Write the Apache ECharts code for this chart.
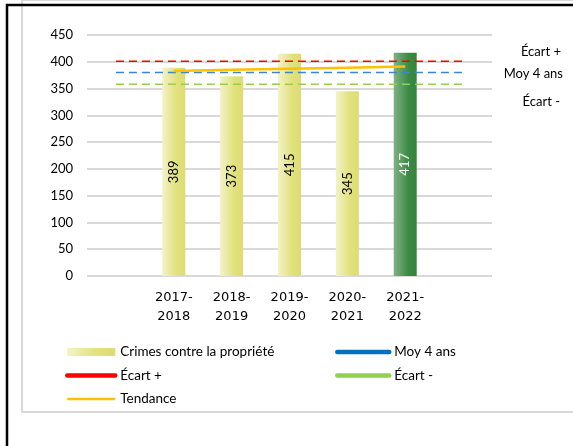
<!DOCTYPE html>
<html>
<head>
<meta charset="utf-8">
<script src="https://cdn.jsdelivr.net/npm/echarts@6/dist/echarts.min.js"></script>
<style>
html,body{margin:0;padding:0;background:#fff;}
#c{width:573px;height:446px;}
</style>
</head>
<body>
<div id="c"></div>
<script>
const categories = ['', '2017-\n2018', '2018-\n2019', '2019-\n2020', '2020-\n2021', '2021-\n2022', ''];
const crimes = [null, 389, 373, 415, 345, 417, null];
const moy4ans = [380, 380, 380, 380, 380, 380, 380];
const ecartPlus = [401, 401, 401, 401, 401, 401, 401];
const ecartMoins = [358, 358, 358, 358, 358, 358, 358];
const tendance = [null, 383, 385, 387, 389, 391, null];
const yTicks = { min: 0, max: 450, interval: 50 };
const sideLabels = ['Écart +', 'Moy 4 ans', 'Écart -'];

const FONT = 'Lato';
const yellowGrad = new echarts.graphic.LinearGradient(0, 0, 1, 0, [
  { offset: 0, color: '#f2f2c8' },
  { offset: 0.6, color: '#e2e27e' },
  { offset: 1, color: '#dcdc72' }
]);
const greenGrad = new echarts.graphic.LinearGradient(0, 0, 1, 0, [
  { offset: 0, color: '#7fb284' },
  { offset: 0.65, color: '#3a8a44' },
  { offset: 1, color: '#35833e' }
]);

const barData = crimes.map((v, i) => {
  if (v === null) return null;
  if (i === 5) {
    return { value: v, itemStyle: { color: greenGrad }, label: { color: '#ffffff' } };
  }
  return v;
});

const noDot = { color: 'transparent', borderWidth: 0 };

const chart = echarts.init(document.getElementById('c'), null, { renderer: 'canvas' });
chart.setOption({
  animation: false,
  textStyle: { fontFamily: FONT },
  grid: { left: 87, right: 81, top: 35, bottom: 170 },
  graphic: [
    { type: 'rect', z: 0, shape: { x: 22, y: 0, width: 600, height: 412 },
      style: { fill: 'none', stroke: '#d9d9d9', lineWidth: 2 } },
    { type: 'rect', z: 1, shape: { x: 7, y: 5, width: 620, height: 500 },
      style: { fill: 'none', stroke: '#000000', lineWidth: 2.5 } },
    { type: 'text', right: 12, top: 45, style: { text: sideLabels[0], font: '13px ' + FONT, fill: '#000' } },
    { type: 'text', right: 10, top: 67, style: { text: sideLabels[1], font: '13px ' + FONT, fill: '#000' } },
    { type: 'text', right: 13, top: 95, style: { text: sideLabels[2], font: '13px ' + FONT, fill: '#000' } }
  ],
  legend: [
    {
      left: 65, top: 345, padding: 0, orient: 'vertical', itemWidth: 48, itemHeight: 8, itemGap: 9.5,
      textStyle: { fontSize: 13.5, color: '#000', fontFamily: FONT },
      data: [
        { name: 'Crimes contre la propriété', icon: 'rect', itemStyle: { color: yellowGrad } },
        { name: 'Écart +', lineStyle: { type: 'solid', width: 4.5, color: '#ff0000', cap: 'round' }, itemStyle: noDot },
        { name: 'Tendance', lineStyle: { type: 'solid', width: 2.5, color: '#ffc000' }, itemStyle: noDot }
      ]
    },
    {
      left: 335, top: 345, padding: 0, orient: 'vertical', itemWidth: 52, itemHeight: 8, itemGap: 9.5,
      textStyle: { fontSize: 13.5, color: '#000', fontFamily: FONT },
      data: [
        { name: 'Moy 4 ans', lineStyle: { type: 'solid', width: 4.5, color: '#0070c0', cap: 'round' }, itemStyle: noDot },
        { name: 'Écart -', lineStyle: { type: 'solid', width: 4.5, color: '#92d050', cap: 'round' }, itemStyle: noDot }
      ]
    }
  ],
  xAxis: {
    type: 'category',
    data: categories,
    boundaryGap: true,
    axisLine: { show: false },
    axisTick: { show: false },
    axisLabel: { color: '#000', fontSize: 13, lineHeight: 19, margin: 12, fontFamily: 'DejaVu Sans', interval: 0 }
  },
  yAxis: {
    type: 'value',
    min: yTicks.min, max: yTicks.max, interval: yTicks.interval,
    axisLine: { show: false },
    axisTick: { show: false },
    axisLabel: { color: '#000', fontSize: 13, margin: 14 },
    splitLine: { lineStyle: { color: '#d9d9d9', width: 2 } }
  },
  series: [
    {
      name: 'Crimes contre la propriété',
      type: 'bar',
      data: barData,
      barWidth: 23,
      itemStyle: { color: yellowGrad },
      label: { show: true, position: 'inside', rotate: 90, fontSize: 13, color: '#000', fontFamily: FONT },
      z: 2
    },
    {
      name: 'Écart +', type: 'line', data: ecartPlus, symbol: 'none',
      lineStyle: { color: '#ff0000', width: 1.5, type: [8, 5] }, itemStyle: { color: '#ff0000' }, z: 3
    },
    {
      name: 'Moy 4 ans', type: 'line', data: moy4ans, symbol: 'none',
      lineStyle: { color: '#3a86d0', width: 1.5, type: [8, 5] }, itemStyle: { color: '#0070c0' }, z: 3
    },
    {
      name: 'Écart -', type: 'line', data: ecartMoins, symbol: 'none',
      lineStyle: { color: '#92d050', width: 1.5, type: [8, 5] }, itemStyle: { color: '#92d050' }, z: 3
    },
    {
      name: 'Tendance', type: 'line', data: tendance, symbol: 'none',
      lineStyle: { color: '#ffc000', width: 2.5 }, itemStyle: { color: '#ffc000' }, z: 4
    }
  ]
});
</script>
</body>
</html>
